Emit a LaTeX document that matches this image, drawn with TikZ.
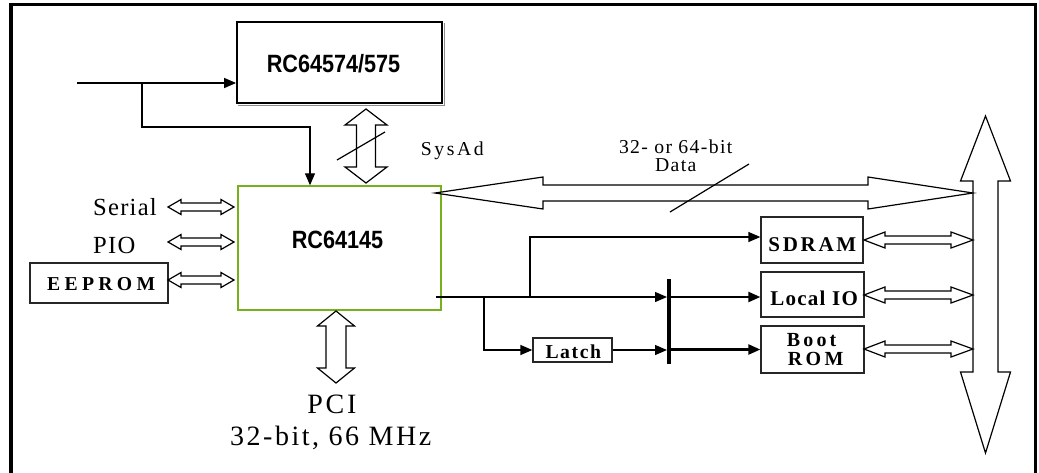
\documentclass[tikz,border=0pt]{standalone}
\usepackage{fontspec}
\setmainfont{Liberation Serif}
\newfontfamily\chipfont{Liberation Sans}[FakeStretch=0.865]
\usetikzlibrary{calc,arrows.meta}
\definecolor{ctlgreen}{RGB}{118,176,28}
\newcommand\lsp[2]{{\addfontfeature{LetterSpace=#1}#2\kern-#1\dimexpr0.01em\relax}}
\newcommand\hollowarr[6]{%
  \path coordinate (hA) at ($(#1)!#5pt!(#2)$) coordinate (hB) at ($(#2)!#6pt!(#1)$);
  \draw[hollow] (#1) -- ($(hA)!#4pt!90:(#2)$) -- ($(hA)!#3pt!90:(#2)$)
    -- ($(hB)!#3pt!-90:(#1)$) -- ($(hB)!#4pt!-90:(#1)$) -- (#2)
    -- ($(hB)!#4pt!90:(#1)$) -- ($(hB)!#3pt!90:(#1)$)
    -- ($(hA)!#3pt!-90:(#2)$) -- ($(hA)!#4pt!-90:(#2)$) -- cycle;}
\tikzset{
  plainbox/.style={draw=black!85, line width=1.3pt, inner sep=0pt, fill=white},
  conn/.style={line width=1.3pt, -{Triangle[length=12pt,width=10pt]}},
  connthick/.style={line width=2.3pt, -{Triangle[length=12pt,width=10pt]}},
  hollow/.style={draw, line width=1.2pt, fill=white, line join=miter},
  slash/.style={line width=1.2pt},
  serif/.style={font=\fontsize{#1}{#1}\selectfont, inner sep=0pt, anchor=base},
  bserif/.style={font=\bfseries\fontsize{#1}{#1}\selectfont, inner sep=0pt, anchor=base},
  chip/.style={font=\chipfont\bfseries\fontsize{25}{28}\selectfont, inner sep=0pt, anchor=base},
}
\begin{document}
\begin{tikzpicture}[x=1pt,y=-1pt]
\useasboundingbox (0,0) rectangle (1039,472);
\clip (0,0) rectangle (1039,472);
% outer frame
\draw[line width=3.5pt] (11,4.5) rectangle (1035.5,500);

% boxes
\node[draw, line width=1.8pt, minimum width=205pt, minimum height=81pt, inner sep=0pt] (cpu) at (339.5,62.5) {};
\draw[black!45, line width=1pt] ($(cpu.north east)+(2,2)$) -- ($(cpu.south east)+(2,2)$) -- ($(cpu.south west)+(2,2)$);
\node[chip] (cpulabel) at (333.5,72) {RC64574/575};

\node[draw=ctlgreen, line width=1.4pt, minimum width=203pt, minimum height=124pt, inner sep=0pt] (ctl) at (339.5,248) {};
\node[chip] (ctllabel) at (337.5,248) {RC64145};

\node[plainbox, minimum width=138pt, minimum height=40pt] (eeprom) at (99,283) {};
\node[plainbox, minimum width=102pt, minimum height=46pt] (sdram) at (812,240) {};
\node[plainbox, minimum width=103pt, minimum height=45pt] (localio) at (812.5,294.5) {};
\node[plainbox, minimum width=103pt, minimum height=47pt] (bootrom) at (812.5,349.5) {};
\node[plainbox, minimum width=79pt, minimum height=24pt] (latch) at (572.5,350) {};

\node[bserif=19.7] (eepromtxt) at (99,290.7) {\lsp{22}{EEPROM}};
\node[bserif=21] (sdramtxt) at (811,251) {\lsp{13}{SDRAM}};
\node[bserif=21] (localiotxt) at (813.5,305) {\lsp{6}{Local IO}};
\node[bserif=20] (boottxt) at (810,346.7) {\lsp{16}{Boot}};
\node[bserif=20] (romtxt) at (814,365) {\lsp{17}{ROM}};
\node[bserif=19.7] (latchtxt) at (572.5,358.3) {\lsp{8}{Latch}};

% texts
\node[serif=24.6, anchor=base west] (serial) at (93,215) {\lsp{5}{Serial}};
\node[serif=24.6, anchor=base west] (pio) at (93,253) {\lsp{5}{PIO}};
\node[serif=19.7] (sysad) at (451,155.7) {\lsp{13}{SysAd}};
\node[serif=19.7] (width) at (675,153.3) {\lsp{7}{32- or 64-bit}};
\node[serif=19.7] (data) at (675,171.7) {\lsp{7}{Data}};
\node[serif=28] (pci) at (330.5,413) {\lsp{10}{PCI}};
\node[serif=28] (pcispec) at (329.5,445) {\lsp{9}{32-bit, 66 MHz}};

% clock / input lines
\coordinate (in) at (77,83);
\coordinate (br1) at (142,83);
\coordinate (ctlin) at (310,127);
\draw[conn] (in) -- (in -| cpu.west);
\draw[conn] (br1) |- (ctlin) -- (ctlin |- ctl.north);

% local bus control lines
\coordinate (mo) at (436,297);
\coordinate (bu) at (530,297);
\coordinate (bd) at (484,297);
\coordinate (bartop) at (669,279);
\coordinate (barbot) at (669,364);
\coordinate (sdin) at ($(sdram.west)+(0,-3)$);
\coordinate (lioin) at ($(localio.west)+(0,2.5)$);
\draw[conn, shorten >=2pt] (mo) -- (mo -| bartop);
\draw[conn] (bu) |- (sdin);
\draw[conn] (bd) |- (latch.west);
\draw[conn, shorten >=2pt] (latch.east) -- (latch.east -| bartop);
\draw[line width=4.5pt] (bartop) -- (barbot);
\draw[connthick] (lioin -| bartop) -- (lioin);
\draw[connthick] (bootrom.west -| bartop) -- (bootrom.west);

% hollow arrows
\coordinate (busT) at (985.5,116);
\coordinate (busB) at (985.5,453);
\hollowarr{busT}{busB}{12.5}{25}{65}{81}

\coordinate (serA) at (168,207); \coordinate (serB) at (234,207);
\coordinate (pioA) at (168,242); \coordinate (pioB) at (234,242);
\coordinate (eeA) at (168,280); \coordinate (eeB) at (234,280);
\hollowarr{serA}{serB}{4}{7.5}{13}{13}
\hollowarr{pioA}{pioB}{4}{7.5}{13}{13}
\hollowarr{eeA}{eeB}{4}{7.5}{13}{13}

\coordinate (sysT) at (366,109); \coordinate (sysB) at (366,183);
\hollowarr{sysT}{sysB}{9.5}{21}{16}{16}
\coordinate (pciT) at (336,311); \coordinate (pciB) at (336,383);
\hollowarr{pciT}{pciB}{10}{18.5}{15}{15}

\coordinate (dataL) at (435,193); \coordinate (dataR) at (973,193);
\hollowarr{dataL}{dataR}{8}{16}{108}{105}

\coordinate (sdA) at (864,240); \coordinate (sdB) at (973,240);
\coordinate (ioA) at (864,295); \coordinate (ioB) at (973,295);
\coordinate (brA) at (864,349); \coordinate (brB) at (973,349);
\hollowarr{sdA}{sdB}{4}{8}{21}{22}
\hollowarr{ioA}{ioB}{4}{8}{21}{22}
\hollowarr{brA}{brB}{4}{8}{21}{22}

% bus-width slashes
\coordinate (s1a) at (337,160); \coordinate (s1b) at (385,132);
\coordinate (s2a) at (670,212); \coordinate (s2b) at (749,164);
\draw[slash] (s1a) -- (s1b);
\draw[slash] (s2a) -- (s2b);
\end{tikzpicture}
\end{document}
